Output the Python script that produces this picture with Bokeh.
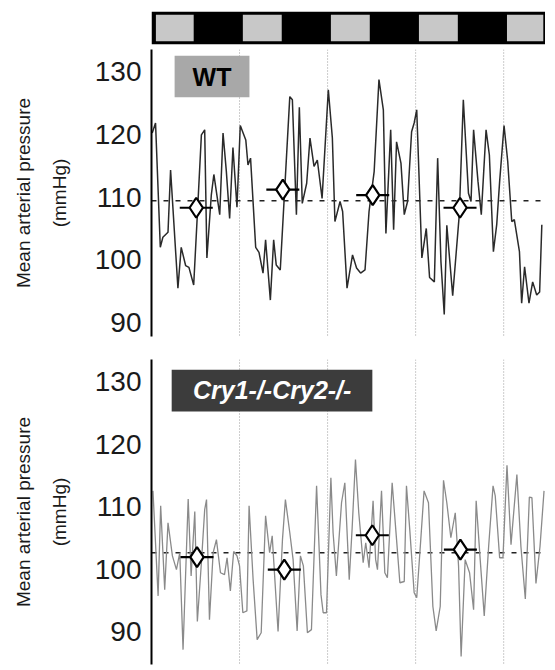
from bokeh.plotting import figure
from bokeh.models import Range1d, Span, LinearAxis, FixedTicker
from bokeh.layouts import column
from bokeh.embed import file_html
from bokeh.resources import INLINE
from bokeh.core.properties import value

FONT = "Liberation Sans"

# ---------------- data ----------------
light_on = [0, 24, 48, 72, 96]
light_off = [12, 36, 60, 84, 108]
day_boundaries = [24, 48, 72, 96]
y_ticks = [90, 100, 110, 120, 130]

wt_hours = [0.2, 1.1, 2.4, 3.1, 4.5, 5.2, 7.2, 8.1, 9.3, 10.2, 11.5, 12.4, 13.6, 14.5,
            15.1, 16.3, 17.0, 18.6, 19.5, 20.4, 21.3, 22.2, 23.3, 24.2, 25.7, 26.3, 27.0,
            28.4, 29.3, 30.4, 31.1, 32.4, 33.3, 34.0, 35.1, 37.7, 38.4, 39.5, 40.3, 41.1,
            42.3, 43.2, 44.3, 45.2, 46.5, 48.2, 49.3, 50.0, 51.4, 52.1, 53.3, 54.8, 55.9,
            57.0, 58.2, 59.3, 60.7, 62.0, 63.2, 63.9, 65.2, 66.0, 66.8, 68.0, 68.9, 69.8,
            70.9, 71.6, 72.3, 73.7, 74.9, 75.8, 77.1, 78.0, 78.9, 79.8, 80.5, 82.1, 83.9,
            85.0, 86.4, 87.1, 87.8, 89.0, 89.9, 91.2, 92.1, 93.2, 94.1, 94.9, 96.1, 97.1,
            98.2, 98.9, 100.3, 100.9, 101.7, 102.9, 103.9, 105.0, 105.8, 106.4]
wt_map = [120.2, 121.8, 102.0, 103.6, 104.4, 114.3, 95.5, 102.0, 99.1, 98.8, 96.0, 106.1,
          119.9, 120.7, 100.3, 110.3, 113.6, 107.2, 120.2, 114.1, 106.6, 117.9, 108.4, 121.4,
          119.1, 115.1, 116.2, 102.0, 101.2, 97.9, 103.2, 93.6, 103.2, 99.2, 98.4, 126.0,
          125.5, 107.2, 124.3, 109.0, 112.2, 119.4, 114.9, 115.9, 109.8, 127.1, 119.4, 106.1,
          109.3, 107.7, 95.5, 100.8, 98.7, 97.9, 98.4, 107.7, 114.1, 128.7, 123.9, 104.2,
          120.7, 104.8, 118.8, 115.4, 107.2, 109.3, 120.4, 121.8, 123.9, 100.3, 105.0, 97.2,
          96.5, 116.2, 99.7, 91.3, 105.5, 94.3, 107.2, 125.5, 110.6, 109.3, 120.7, 112.5,
          107.2, 120.7, 116.7, 101.3, 105.6, 112.5, 121.4, 115.7, 106.1, 106.4, 101.3, 93.1,
          98.9, 93.1, 96.5, 94.4, 94.9, 105.6]

cry_hours = [0.4, 1.8, 2.5, 3.6, 4.5, 5.7, 6.8, 7.7, 8.6, 10.0, 10.8, 11.8, 12.5, 13.6,
             14.5, 15.0, 15.8, 16.8, 17.7, 18.8, 19.9, 20.6, 21.5, 22.4, 23.3, 24.0, 24.9,
             26.0, 26.6, 27.7, 28.8, 29.9, 31.1, 32.2, 32.9, 34.5, 35.7, 36.5, 37.7, 38.6,
             39.7, 40.6, 41.4, 42.5, 43.6, 45.0, 46.2, 46.8, 47.7, 48.9, 49.5, 50.4, 51.8,
             52.7, 53.9, 54.7, 55.6, 56.5, 57.7, 58.4, 59.3, 60.4, 61.1, 61.6, 62.7, 63.6,
             64.3, 65.6, 66.8, 67.7, 68.9, 69.5, 70.4, 71.6, 72.3, 73.4, 74.3, 75.5, 76.7,
             77.6, 78.7, 79.6, 80.5, 81.6, 82.8, 83.7, 84.4, 85.5, 86.7, 87.8, 88.5, 89.6,
             90.7, 91.9, 93.1, 93.7, 94.9, 95.8, 96.9, 98.0, 99.6, 100.7, 101.9, 103.0,
             103.7, 104.8, 105.9, 107.0]
cry_map = [112.5, 95.7, 110.1, 96.7, 107.4, 102.1, 99.9, 102.6, 87.1, 111.2, 98.9, 109.2,
           91.6, 101.0, 109.5, 111.1, 91.9, 102.6, 104.7, 99.4, 99.1, 101.8, 96.5, 102.8,
           102.1, 100.5, 93.0, 93.3, 110.1, 98.3, 88.7, 89.8, 108.5, 102.6, 105.3, 90.0,
           104.7, 111.1, 105.8, 101.5, 90.1, 102.1, 100.5, 89.8, 90.3, 113.3, 95.9, 93.0,
           93.0, 114.6, 105.8, 98.9, 110.6, 113.8, 98.3, 106.6, 117.5, 109.0, 101.0, 104.2,
           100.2, 110.9, 101.5, 99.9, 112.5, 99.4, 98.6, 113.8, 104.7, 97.8, 98.0, 113.3,
           106.3, 96.2, 95.4, 104.7, 112.5, 110.6, 94.0, 90.1, 94.0, 114.2, 110.6, 105.0,
           109.0, 100.5, 86.0, 101.5, 99.4, 93.5, 110.9, 101.5, 92.5, 103.6, 113.3, 111.7,
           101.8, 101.8, 116.6, 103.9, 115.1, 103.6, 95.2, 111.5, 111.4, 97.7, 103.6, 112.5]

wt_mean = 109.4
cry_mean = 102.6
wt_phase_hours = [12.2, 35.8, 60.3, 84.1]
wt_phase_map = [108.3, 111.2, 110.3, 108.3]
cry_phase_hours = [12.4, 36.2, 60.2, 84.2]
cry_phase_map = [101.9, 99.9, 105.4, 103.1]
phase_halfwidth = 4.5

# ---------------- layout constants ----------------
X_END = 107.4
LEFT = 151
W = LEFT + 394


def base(height, top, bottom, y_range, yaxis=True):
    p = figure(width=W, height=height, title=None,
               x_range=Range1d(0, X_END), y_range=y_range,
               x_axis_location=None, y_axis_location="left" if yaxis else None,
               toolbar_location=None, output_backend="svg",
               min_border_left=LEFT, min_border_right=0,
               min_border_top=top, min_border_bottom=bottom,
               outline_line_color=None, background_fill_color="white",
               border_fill_color="white")
    p.grid.visible = False
    return p


# ---------------- light/dark bar ----------------
bar = base(46, 11, 2, Range1d(0, 1), yaxis=False)
bar.quad(left=[0], right=[X_END], bottom=[0], top=[1], fill_color="black",
         line_color=None)
l_left = [max(a + 0.9, 1.2) for a in light_on]
l_right = [min(b - 0.5, X_END - 0.6) for b in light_off]
bar.quad(left=l_left, right=l_right, bottom=[0.1] * len(l_left), top=[0.9] * len(l_left),
         fill_color="#c8c8c8", line_color=None)


def style_axes(p):
    ax = p.yaxis[0]
    ax.ticker = FixedTicker(ticks=y_ticks)
    ax.axis_line_color = "black"
    ax.axis_line_width = 2
    ax.major_tick_out = 0
    ax.major_tick_in = 0
    ax.minor_tick_out = 0
    ax.minor_tick_in = 0
    ax.major_label_standoff = 10
    ax.major_label_text_font = FONT
    ax.major_label_text_font_size = "28px"
    ax.major_label_text_color = "#1a1a1a"
    ax.axis_label = "(mmHg)"
    ax.axis_label_text_font = FONT
    ax.axis_label_text_font_size = "19px"
    ax.axis_label_text_font_style = "normal"
    ax.axis_label_text_color = "#1a1a1a"
    ax.axis_label_standoff = 22
    outer = LinearAxis(ticker=FixedTicker(ticks=[]), axis_line_color=None,
                       major_tick_out=0, major_tick_in=0, minor_tick_out=0, minor_tick_in=0,
                       axis_label="Mean arterial pressure", axis_label_text_font=FONT,
                       axis_label_text_font_size="19px", axis_label_text_font_style="normal",
                       axis_label_text_color="#1a1a1a", axis_label_standoff=12)
    p.add_layout(outer, "left")


def panel(p, hours, vals, color, width, mean, ph, pv):
    for d in day_boundaries:
        p.add_layout(Span(location=d, dimension="height", line_color="#9a9a9a",
                          line_dash="1 2", line_width=1, level="underlay"))
    p.add_layout(Span(location=mean, dimension="width", line_color="#222222",
                      line_dash="5 7", line_width=1.5, level="underlay"))
    p.line(hours, vals, line_color=color, line_width=width)
    p.segment(x0=[h - phase_halfwidth for h in ph], x1=[h + phase_halfwidth for h in ph],
              y0=pv, y1=pv, line_color="black", line_width=2.2)
    p.scatter(ph, pv, marker="diamond", size=20, fill_color="white",
              line_color="black", line_width=2.2)


# ---------------- WT panel ----------------
top = base(303, 3, 13, Range1d(87.8, 133.5))
style_axes(top)
panel(top, wt_hours, wt_map, "#2a2a2a", 1.5, wt_mean, wt_phase_hours, wt_phase_map)
top.quad(left=[6.3], right=[26.7], bottom=[125.9], top=[132.5],
         fill_color="#a8a8a8", line_color=None)
top.text(x=[16.5], y=[129.2], text=["WT"], text_font=value(FONT), text_font_style="bold",
         text_font_size="25px", text_align="center", text_baseline="middle",
         text_color="black")

# ---------------- Cry1-/-Cry2-/- panel ----------------
bot = base(317, 10, 2, Range1d(84.72, 133.52))
style_axes(bot)
panel(bot, cry_hours, cry_map, "#8a8a8a", 1.3, cry_mean, cry_phase_hours, cry_phase_map)
bot.quad(left=[5.5], right=[60.2], bottom=[125.2], top=[131.9],
         fill_color="#3c3c3c", line_color=None)
bot.text(x=[32.9], y=[128.6], text=["Cry1-/-Cry2-/-"], text_font=value(FONT),
         text_font_style="bold italic", text_font_size="25px", text_align="center",
         text_baseline="middle", text_color="white")

layout = column(bar, top, bot, spacing=0)
open("out.html", "w").write(file_html(layout, INLINE))
